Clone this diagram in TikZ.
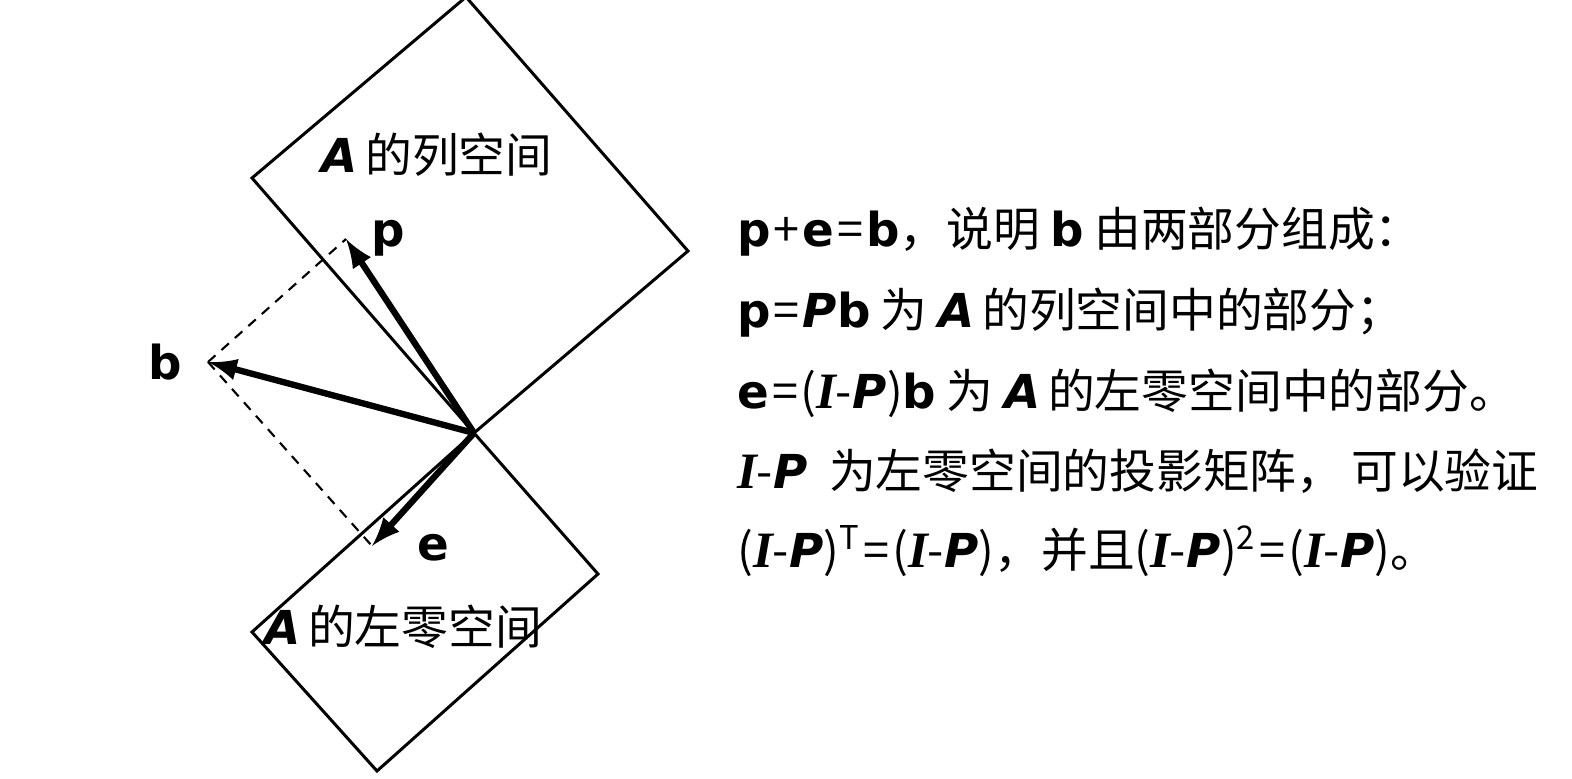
\documentclass[tikz,border=0pt]{standalone}
\usepackage{fontspec}
\setmainfont{Noto Sans CJK SC}
\newfontfamily\lat{DejaVu Sans}
\newfontfamily\serf{Liberation Serif}
\usetikzlibrary{arrows}

\newcommand{\vb}[1]{{\lat\bfseries #1}}
\newcommand{\mx}[1]{{\lat\bfseries\itshape #1}}
\newcommand{\mI}{{\serf\bfseries\itshape\fontsize{14.5pt}{14pt}\selectfont I}}
\newcommand{\IP}{\mI{\kern-0.02em-\kern0.02em}\mx{P}}
\newcommand{\op}[1]{\kern0.06em#1\kern0.06em}

\begin{document}
\begin{tikzpicture}[x=0.01cm, y=-0.01cm, every node/.style = {inner sep=0pt,
	font=\fontsize{13.3pt}{16pt}\selectfont}]
\useasboundingbox (0,0) rectangle (1572,779);
\tikzset{plane/.style={line width=0.85pt, line join=miter},
  vec/.style={line width=1.8pt,->,>=latex},
  helper/.style={line width=0.6pt, dash pattern=on 0.1cm off 0.08cm}}

% the two subspaces
\coordinate (O) at (474,433);
\draw[plane] (O) -- (252,178) -- (466,-3) -- (688,251) -- cycle;
\draw[plane] (O) -- (252,632) -- (377,771) -- (598,574) -- cycle;
\node (colsp) at (437,155) {\mx{A}\,的列空间};
\node (nullsp) at (403,627) {\mx{A}\,的左零空间};

% b and its two parts
\coordinate (B) at (208,362);
\coordinate (P) at (346,239);
\coordinate (E) at (372,546);
\draw[helper] (B) -- (P);
\draw[helper] (B) -- (E);
\draw[vec] (O) -- (B);
\draw[vec] (O) -- (P);
\draw[vec] (O) -- (E);
\node (bl) at (165,362) {\vb{b}};
\node (pl) at (388,238) {\vb{p}};
\node (el) at (433,548) {\vb{e}};

% explanation
\node[anchor=west] (t1) at (737,232) {\vb{p}\op{+}\vb{e}\op{=}\vb{b}，说明 \vb{b} 由两部分组成：};
\node[anchor=west] (t2) at (737,313) {\vb{p}\op{=}\mx{P}\vb{b} 为 \mx{A}\,的列空间中的部分；};
\node[anchor=west] (t3) at (737,393) {\vb{e}\op{=}(\IP)\vb{b} 为 \mx{A}\,的左零空间中的部分。};
\node[anchor=west] (t4) at (737,471) {\IP\ \ 为左零空间的投影矩阵，\,可以验证};
\node[anchor=west] (t5) at (737,551) {(\IP)\textsuperscript{T}\op{=}(\IP)，并且(\IP)\textsuperscript{2}\op{=}(\IP)。};
\end{tikzpicture}
\end{document}
